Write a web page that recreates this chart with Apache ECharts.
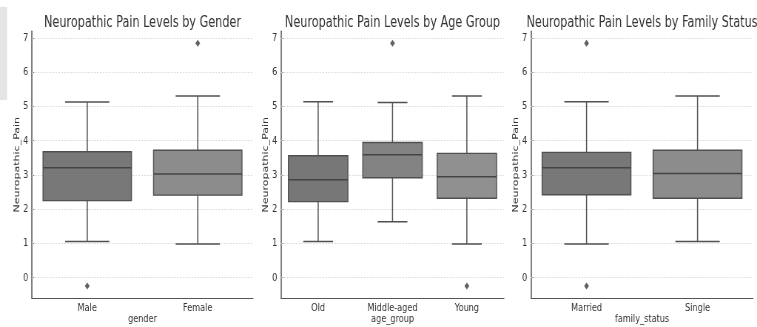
<!DOCTYPE html>
<html><head><meta charset="utf-8">
<script src="https://cdn.jsdelivr.net/npm/echarts@6/dist/echarts.min.js"></script>
<style>
html,body{margin:0;padding:0;overflow:hidden;background:#fff}
#wrap{width:757px;height:327px;overflow:hidden;position:relative}
#c{width:1023px;height:327px;transform:scaleX(0.74);transform-origin:0 0}
</style>
</head><body><div id="wrap"><div id="c"></div></div>
<script>
// ---- data ----
const titles = ['Neuropathic Pain Levels by Gender','Neuropathic Pain Levels by Age Group','Neuropathic Pain Levels by Family Status'];
const xNames = ['gender','age_group','family_status'];
const yName = 'Neuropathic_Pain';
const yTicks = [0,1,2,3,4,5,6,7];

const genderCats = ['Male','Female'];
// [min, Q1, median, Q3, max]
const genderBoxes = [[1.06,2.25,3.21,3.68,5.13],[0.98,2.41,3.03,3.72,5.31]];
const genderOutliers = [[0,-0.24],[1,6.85]];

const ageCats = ['Old','Middle-aged','Young'];
const ageBoxes = [[1.06,2.22,2.86,3.56,5.14],[1.63,2.92,3.59,3.95,5.12],[0.98,2.32,2.95,3.63,5.31]];
const ageOutliers = [[1,6.85],[2,-0.24]];

const familyCats = ['Married','Single'];
const familyBoxes = [[0.98,2.42,3.21,3.66,5.14],[1.06,2.32,3.04,3.72,5.31]];
const familyOutliers = [[0,6.85],[0,-0.24]];

const palettes = [['#787878','#8c8c8c'],['#777777','#838383','#909090'],['#787878','#8c8c8c']];

// ---- layout ----
const lefts = [43.2, 379.7, 717.6];
const gws = [298.7, 301.4, 300];
const gtop = 31.2, gh = 267;
const FONT = 'DejaVu Sans';
const panels = [
  {cats: genderCats, boxes: genderBoxes, out: genderOutliers},
  {cats: ageCats, boxes: ageBoxes, out: ageOutliers},
  {cats: familyCats, boxes: familyBoxes, out: familyOutliers}
];

const chart = echarts.init(document.getElementById('c'), null, {renderer:'canvas'});

function makeRender(pi){
  return function(params, api){
    const x = api.value(0);
    const vals = [1,2,3,4,5].map(i=>api.coord([x, api.value(i)]));
    const cx = vals[0][0];
    const band = api.size([1,0])[0];
    const bw = band*0.8, cw = bw/2;
    const edge = '#505050';
    const ls = {stroke: edge, lineWidth: 1.5};
    const col = palettes[pi][params.dataIndex];
    return {type:'group', children:[
      {type:'line', shape:{x1:cx,y1:vals[3][1],x2:cx,y2:vals[4][1]}, style:ls},
      {type:'line', shape:{x1:cx,y1:vals[0][1],x2:cx,y2:vals[1][1]}, style:ls},
      {type:'line', shape:{x1:cx-cw/2,y1:vals[4][1],x2:cx+cw/2,y2:vals[4][1]}, style:ls},
      {type:'line', shape:{x1:cx-cw/2,y1:vals[0][1],x2:cx+cw/2,y2:vals[0][1]}, style:ls},
      {type:'rect', shape:{x:cx-bw/2,y:vals[3][1],width:bw,height:vals[1][1]-vals[3][1]}, style:{fill:col, stroke:edge, lineWidth:1.4}},
      {type:'line', shape:{x1:cx-bw/2,y1:vals[2][1],x2:cx+bw/2,y2:vals[2][1]}, style:{stroke:'#444', lineWidth:1.5}}
    ]};
  };
}

const grid=[], xAxis=[], yAxis=[], series=[], title=[];
panels.forEach((p,i)=>{
  grid.push({left:lefts[i], top:gtop, width:gws[i], height:gh, containLabel:false, outerBoundsMode:'none'});
  title.push({text:titles[i], left:lefts[i]+gws[i]/2-5, top:11, textAlign:'center',
    textStyle:{fontFamily:FONT, fontSize:15.2, fontWeight:'normal', color:'#333'}});
  xAxis.push({type:'category', gridIndex:i, data:p.cats, name:xNames[i], nameLocation:'middle', nameGap:15,
    nameMoveOverlap:false,
    nameTextStyle:{fontFamily:FONT, fontSize:11, color:'#333'},
    axisLine:{onZero:false, lineStyle:{color:'#555', width:1.2}},
    axisTick:{inside:true, length:3, alignWithLabel:true, lineStyle:{color:'#555'}},
    axisLabel:{fontFamily:FONT, fontSize:11, color:'#333', margin:4},
    splitLine:{show:false}});
  yAxis.push({type:'value', gridIndex:i, min:-0.6, max:7.2,
    name:yName, nameLocation:'middle', nameGap:15, nameRotate:90, nameMoveOverlap:false,
    nameTextStyle:{fontFamily:FONT, fontSize:11, color:'#333'},
    axisLine:{show:true, lineStyle:{color:'#555', width:1.5}},
    axisTick:{show:true, inside:true, length:3, customValues:yTicks, lineStyle:{color:'#555'}},
    axisLabel:{fontFamily:FONT, fontSize:11, color:'#333', margin:5, customValues:yTicks},
    splitLine:{show:false}});
  series.push({type:'custom', xAxisIndex:i, yAxisIndex:i, renderItem:makeRender(i),
    encode:{x:0, y:[1,2,3,4,5]},
    data:p.boxes.map((b,k)=>[k].concat(b)), z:3,
    markLine:{silent:true, symbol:['none','none'], label:{show:false}, z:1,
      lineStyle:{color:'#d9d9d9', type:[2,2], width:1},
      data:yTicks.map(v=>({yAxis:v}))}});
  series.push({type:'scatter', xAxisIndex:i, yAxisIndex:i, symbol:'diamond', symbolSize:[6.5,7],
    itemStyle:{color:'#3a3a3a'}, data:p.out, z:4});
});

chart.setOption({
  animation:false,
  backgroundColor:'#fff',
  title, grid, xAxis, yAxis, series,
  graphic:[{type:'rect', shape:{x:0,y:7,width:9.5,height:93}, style:{fill:'#e4e4e4'}, silent:true}]
});
</script>
</body></html>
